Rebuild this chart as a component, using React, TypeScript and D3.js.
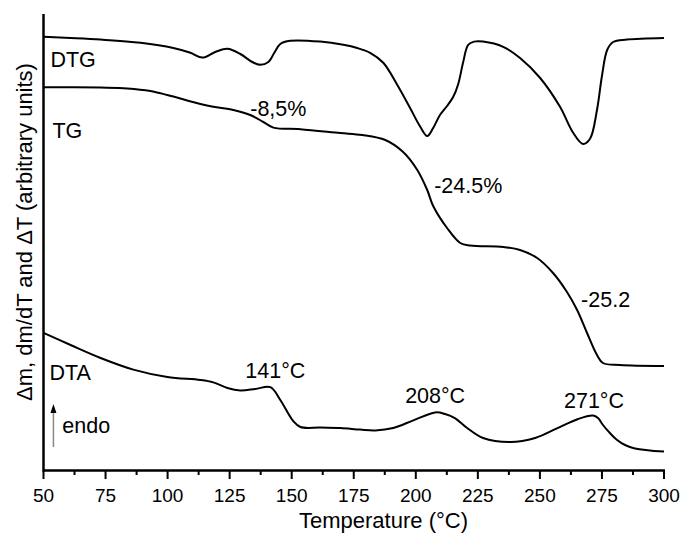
import React from "react";
import * as d3 from "d3";

// temperature (°C), signal (arbitrary units)
const dtgCurve: [number, number][] = [
  [50, 108.3], [60.9, 108], [73, 107.6], [89.1, 106.8], [102.3, 105.5], [109.2, 104.3],
  [114, 103.1], [119.2, 104.5], [124.1, 105.3], [129.3, 104], [134.1, 102], [137.4, 101.3],
  [140.6, 102], [143, 104.3], [145.4, 106.5], [149.4, 107.3], [161.5, 107.1], [170.8, 106.3],
  [176.4, 105.5], [181.6, 104.3], [186.9, 101.8], [192.5, 96.3], [197.7, 90.5], [201.8, 85.8],
  [204.6, 83.5], [207, 85.5], [209.8, 88.8], [212.6, 91], [215.1, 93.3], [217.1, 96.5],
  [219.1, 102], [221.1, 106.3], [223.5, 107.1], [227.1, 107.1], [235.2, 105.8], [242, 103],
  [250.1, 98], [258.1, 90.8], [263.4, 84.3], [267.4, 81.5], [270.2, 82.8], [273, 90],
  [275, 98.5], [277.1, 105], [279.5, 107], [285.1, 107.6], [300, 108],
];

const tgCurve: [number, number][] = [
  [50, 95.7], [73, 95.6], [83.8, 95.4], [93.1, 94.75], [99.9, 93.75], [113.2, 91.5],
  [118.4, 90.8], [126.5, 90], [133.3, 88.75], [138.6, 87], [142.6, 85.6], [153.5, 85.2],
  [169.6, 84.25], [178.4, 83.75], [187.7, 82.5], [194.9, 79.5], [200.6, 75], [204.6, 70],
  [207, 66], [212.6, 60.5], [217.9, 56.75], [221.9, 56.1], [235.2, 55.75], [242, 55],
  [248.9, 53], [255.3, 49.25], [260.9, 44.5], [265, 40], [269, 34.25], [273, 28.75],
  [275.4, 26.75], [282.3, 26.25], [300, 26],
];

const dtaCurve: [number, number][] = [
  [50, 34.3], [60.9, 31.25], [73, 28], [86.2, 25.1], [99.9, 23.25], [113.2, 22.5],
  [118.4, 21.9], [124.1, 20.5], [129.3, 19.9], [135.3, 20.25], [141.4, 20.7], [145.4, 17.5],
  [150.6, 12.25], [153.5, 10.75], [161.5, 10.6], [169.6, 10.5], [177.6, 10.1], [183.7, 9.9],
  [190.9, 10.5], [199, 12.4], [207.8, 14.4], [211.8, 14], [215.9, 12.9], [220.7, 10.5],
  [227.1, 8], [238, 7], [248.1, 8], [256.9, 10.4], [265.4, 12.75], [271.4, 13.6],
  [273.4, 13], [275.4, 11.25], [278.2, 9.25], [281.1, 7.5], [284.3, 6.25], [288.3, 5.4],
  [300, 4.6],
];

const xTicks = [50, 75, 100, 125, 150, 175, 200, 225, 250, 275, 300];

// text, temperature, signal (baseline-left)
const annotations: [string, number, number][] = [
  ["DTG", 52.8, 100.75],
  ["TG", 53.6, 83],
  ["-8,5%", 133.3, 88.5],
  ["-24.5%", 207.4, 69.25],
  ["-25.2", 266.6, 40.75],
  ["DTA", 52.4, 22.5],
  ["141°C", 131.3, 23],
  ["208°C", 195.7, 16.75],
  ["271°C", 259.7, 15.5],
  ["endo", 57.6, 9.25],
];

const endoArrow = { temp: 54, from: 5.75, to: 16.5 };

const FONT = "'Liberation Sans', Arial, Helvetica, sans-serif";

export default function App() {
  const width = 684;
  const height = 537;
  const margin = { top: 14, right: 20, bottom: 67, left: 43.5 };

  const x = d3.scaleLinear().domain([50, 300]).range([margin.left, 664]);
  const y = d3.scaleLinear().domain([0, 114]).range([height - margin.bottom, margin.top]);
  const y0 = height - margin.bottom + 0.5;

  const line = d3
    .line<[number, number]>()
    .curve(d3.curveCatmullRom.alpha(0.5))
    .x((d) => x(d[0]))
    .y((d) => y(d[1]));

  const minorTicks = d3.range(62.5, 300, 25);

  return (
    <svg
      width={width}
      height={height}
      style={{ position: "absolute", left: 0, top: 0, background: "#fff" }}
      fontFamily={FONT}
    >
      {[dtgCurve, tgCurve, dtaCurve].map((c, i) => (
        <path key={i} d={line(c) || ""} fill="none" stroke="#000" strokeWidth={2} strokeLinejoin="round" />
      ))}

      {annotations.map(([t, tx, ty]) => (
        <text key={t} x={x(tx)} y={y(ty)} fontSize={21.5} fill="#000">
          {t}
        </text>
      ))}

      {/* endo arrow */}
      <line
        x1={x(endoArrow.temp)}
        x2={x(endoArrow.temp)}
        y1={y(endoArrow.from)}
        y2={y(endoArrow.to) + 8}
        stroke="#888"
        strokeWidth={1.5}
      />
      <path
        d={`M${x(endoArrow.temp)},${y(endoArrow.to)} l-3,9 l6,0 z`}
        fill="#000"
      />

      {/* axes */}
      <line x1={margin.left} x2={margin.left} y1={margin.top} y2={y0 + 1.25} stroke="#000" strokeWidth={2.5} />
      <line x1={margin.left} x2={x(300) + 1} y1={y0} y2={y0} stroke="#000" strokeWidth={2.5} />
      {xTicks.map((t) => (
        <g key={t}>
          <line x1={x(t)} x2={x(t)} y1={y0} y2={y0 + 8.5} stroke="#000" strokeWidth={2} />
          <text x={x(t)} y={y0 + 31} textAnchor="middle" fontSize={19}>
            {t}
          </text>
        </g>
      ))}
      {minorTicks.map((t) => (
        <line key={t} x1={x(t)} x2={x(t)} y1={y0} y2={y0 + 4.5} stroke="#000" strokeWidth={2} />
      ))}

      <text x={383.5} y={528} textAnchor="middle" fontSize={22}>
        Temperature (°C)
      </text>
      <text transform="translate(32,232) rotate(-90)" textAnchor="middle" fontSize={22}>
        Δm, dm/dT and ΔT (arbitrary units)
      </text>
    </svg>
  );
}
